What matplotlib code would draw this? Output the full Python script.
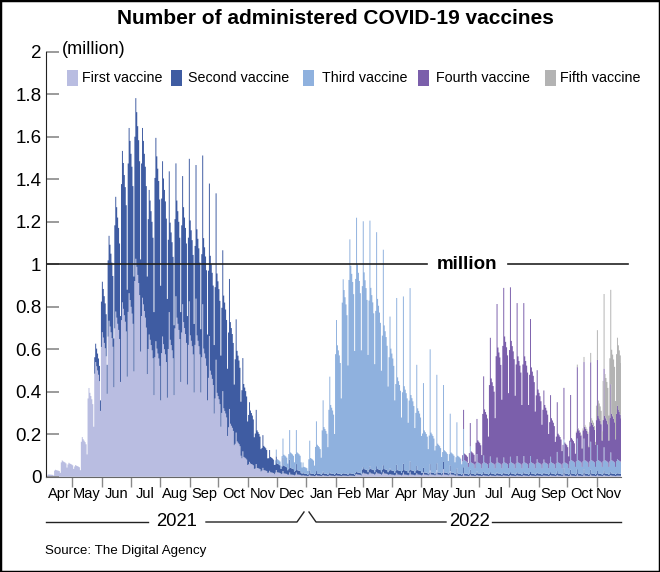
import numpy as np
import pandas as pd
import matplotlib
matplotlib.use("Agg")
import matplotlib.pyplot as plt
from matplotlib.patches import Rectangle
from matplotlib.lines import Line2D

plt.rcParams['font.family'] = ['Liberation Sans', 'DejaVu Sans']

series_names = ["First vaccine", "Second vaccine", "Third vaccine",
                "Fourth vaccine", "Fifth vaccine"]
series_colors = ["#b9bde1", "#3f5ca2", "#8fb1de", "#7b5fab", "#b3b3b3"]

# weekly data, weeks start on Monday 2021-04-05 (86 weeks)
week0 = "2021-04-05"

# typical weekday level of each week, million doses per day
first = [0.01, 0.03, 0.07, 0.06, 0.05, 0.17, 0.38, 0.50,
         0.63, 0.68, 0.72, 0.76, 0.80, 0.95, 0.78, 0.62,
         0.58, 0.60, 0.62, 0.72, 0.70, 0.64, 0.64, 0.58,
         0.48, 0.38, 0.31, 0.24, 0.16, 0.09, 0.06, 0.04,
         0.03, 0.02, 0.02, 0.015, 0.01, 0.01, 0.005, 0.005,
         0.005, 0.005, 0.005, 0.005, 0.005, 0.005, 0.01, 0.015,
         0.015, 0.015, 0.015, 0.01] + [0.01] * 9 + [0.005] * 25

second = [0.0] * 7 + [0.08, 0.22, 0.37, 0.50, 0.66, 0.72, 0.70, 0.74, 0.63,
                      0.87, 0.75, 0.53, 0.53, 0.52, 0.52, 0.48, 0.50,
                      0.52, 0.54, 0.51, 0.46, 0.41, 0.33, 0.24, 0.17,
                      0.11, 0.07, 0.04, 0.035, 0.03, 0.02, 0.01] \
         + [0.01] * 8 + [0.02] * 9 + [0.01] * 30

third = [0.0] * 34 + [0.02, 0.05, 0.07, 0.08, 0.03, 0.07, 0.13, 0.21,
                      0.31, 0.58, 0.83, 0.94, 0.94, 0.89, 0.82, 0.77,
                      0.65, 0.55, 0.42, 0.38, 0.34, 0.28, 0.19, 0.18,
                      0.13, 0.10, 0.09, 0.08, 0.06, 0.05] \
        + [0.05] * 14 + [0.06] * 8

fourth = [0.0] * 62 + [0.03, 0.05, 0.10, 0.24, 0.38, 0.52, 0.57, 0.55,
                       0.48, 0.48, 0.43, 0.33, 0.26, 0.20, 0.13, 0.09,
                       0.10, 0.14, 0.15, 0.17, 0.20, 0.20, 0.21, 0.23]

fifth = [0.0] * 79 + [0.005, 0.01, 0.02, 0.07, 0.19, 0.29, 0.29]

# height of the one tall day of each week, relative to the weekday level
spike = [1.1] * 7 + [1.08] * 9 + [
    1.1, 1.1, 1.25, 1.18, 1.16, 1.29, 1.31, 1.4, 1.38, 1.45,
    1.3, 1.33, 1.3, 1.33, 1.17, 1.5, 1.4, 1.4,
    1.6, 1.8, 2.0, 2.0, 1.5,
    2.0, 1.8, 1.6, 1.45, 1.24, 1.1, 1.17, 1.27, 1.3, 1.41,
    1.43, 1.56, 1.3, 1.87, 2.07, 2.4, 1.7, 2.1, 3.0, 3.2,
    3.6, 2.7, 2.7, 3.0, 2.2, 1.65, 1.55, 1.47, 1.39, 1.4,
    1.45, 1.5, 1.5, 1.5, 1.27, 1.25, 1.45, 1.8, 2.7, 2.2,
    2.4, 2.4, 2.2, 2.0, 1.85, 1.53, 1.1]

# Mon..Sun shape within a week (weekend dip), spike replaces one day
day_shape = [0.97, 1.0, 1.04, 1.0, 0.96, 0.9, 0.62]
spike_day = 1

month_labels = ["Apr", "May", "Jun", "Jul", "Aug", "Sep", "Oct", "Nov", "Dec",
                "Jan", "Feb", "Mar", "Apr", "May", "Jun", "Jul", "Aug", "Sep",
                "Oct", "Nov"]
y_ticks = [0, 0.2, 0.4, 0.6, 0.8, 1, 1.2, 1.4, 1.6, 1.8, 2]
y_labels = ["0", "0.2", "0.4", "0.6", "0.8", "1", "1.2", "1.4", "1.6", "1.8", "2"]

x_start = pd.Timestamp("2021-04-03")
x_end = pd.Timestamp("2022-11-26")

# ---- build daily series
n_weeks = len(spike)
days = pd.date_range(week0, periods=n_weeks * 7 + 1, freq="D")
pattern = np.tile(np.array(day_shape, dtype=float), n_weeks)
pattern[spike_day::7] = spike
daily = [np.repeat(np.array(s, dtype=float), 7) * pattern
         for s in (first, second, third, fourth, fifth)]

W, H = 660, 572


def fx(px):
    return px / W


def fy(py):
    return 1 - py / H


fig = plt.figure(figsize=(W / 100, H / 100), dpi=100)
ax = fig.add_axes([fx(45.5), fy(476.8), (620.8 - 45.5) / W, (476.8 - 51.8) / H])

# stacked areas drawn day by day as steps
lower = np.zeros(n_weeks * 7)
for vals, col in zip(daily, series_colors):
    upper = lower + vals
    lo = np.append(lower, lower[-1])
    up = np.append(upper, upper[-1])
    ax.fill_between(days, lo, up, step="post", facecolor=col, linewidth=0)
    lower = upper

ax.set_xlim(x_start, x_end)
ax.set_ylim(0, 2)
ax.set_yticks(y_ticks)
ax.set_yticklabels(y_labels)
ax.tick_params(axis="y", direction="in", length=9, width=1.2, color="#8a8a8a",
               labelsize=13.5, pad=3)

month_starts = pd.date_range("2021-05-01", "2022-11-01", freq="MS")
ax.set_xticks(month_starts)
ax.set_xticklabels([])
ax.tick_params(axis="x", which="major", direction="out", length=7.5, width=1,
               color="#8a8a8a")
all_starts = pd.date_range("2021-04-01", "2022-12-01", freq="MS")
centers = []
for a, b in zip(all_starts[:-1], all_starts[1:]):
    a = max(a, x_start)
    b = min(b, x_end)
    centers.append(a + (b - a) / 2)
ax.set_xticks(centers, minor=True)
ax.set_xticklabels(month_labels, minor=True)
ax.tick_params(axis="x", which="minor", length=0, labelsize=10.5, pad=7)

for s in ("top", "right"):
    ax.spines[s].set_visible(False)
ax.spines["left"].set_color("#222222")
ax.spines["bottom"].set_color("#666666")

# one-million reference line
ytr = ax.get_yaxis_transform()
ax.plot([0, 0.663], [1, 1], transform=ytr, color="#222222", lw=1.2, zorder=5)
ax.plot([0.804, 1.0125], [1, 1], transform=ytr, color="#222222", lw=1.2,
        zorder=5, clip_on=False)
ax.text(0.732, 1.0, "million", transform=ytr, ha="center", va="center",
        fontsize=13.5, fontweight="bold", zorder=6)

# title, unit, legend
fig.text(fx(335), fy(18), "Number of administered COVID-19 vaccines",
         ha="center", va="center", fontsize=15, fontweight="bold")
fig.text(fx(62), fy(50), "(million)", ha="left", va="center", fontsize=13)

patch_x = [66.5, 170.5, 303, 418, 545]
text_x = [82, 188, 322, 436.5, 560]
for px, tx, name, col in zip(patch_x, text_x, series_names, series_colors):
    fig.add_artist(Rectangle((fx(px), fy(78 + 7.5)), 11 / W, 15 / H,
                             transform=fig.transFigure, facecolor=col,
                             edgecolor="none"))
    fig.text(fx(tx), fy(78), name, ha="left", va="center", fontsize=10.3)

# year bar under the month labels
yb = 522
segs = [[(46, yb), (148, yb)],
        [(206, yb), (297, yb), (304, 512)],
        [(309, 512), (316, yb), (446, yb)],
        [(492, yb), (621, yb)]]
for seg in segs:
    xs = [fx(p[0]) for p in seg]
    ys = [fy(p[1]) for p in seg]
    fig.add_artist(Line2D(xs, ys, transform=fig.transFigure, color="#222222",
                          lw=1))
fig.text(fx(177), fy(yb), "2021", ha="center", va="center", fontsize=13.3)
fig.text(fx(469), fy(yb), "2022", ha="center", va="center", fontsize=13.3)

fig.text(fx(45), fy(551), "Source: The Digital Agency", ha="left",
         va="center", fontsize=9.6)

fig.add_artist(Rectangle((0, 0), 1, 1, transform=fig.transFigure, fill=False,
                         edgecolor="black", lw=2.5))

fig.savefig("out.png", dpi=100)
